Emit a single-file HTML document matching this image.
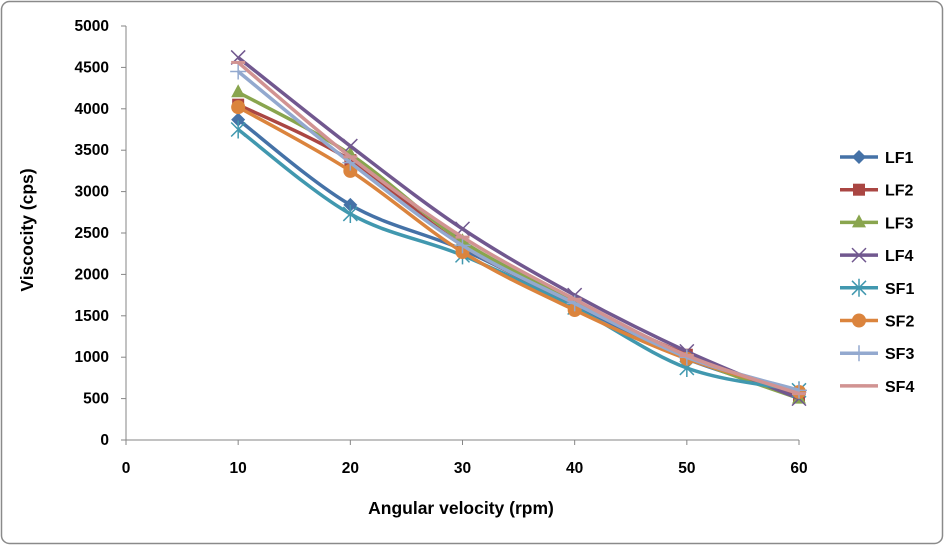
<!DOCTYPE html>
<html><head><meta charset="utf-8"><style>
body{margin:0;background:#fff;font-family:"Liberation Sans",sans-serif}
svg text{font-family:"Liberation Sans",sans-serif;font-weight:bold}
</style></head><body>
<svg id="c" width="945" height="546">
<rect x="1.5" y="1.5" width="941" height="542" rx="8" fill="#fff" stroke="#8a8a8a" stroke-width="1.5"/>
<g id="axes"></g><g id="series"></g><g id="legend"></g>
<text x="461" y="514" font-size="17.5" text-anchor="middle">Angular velocity (rpm)</text>
<text transform="translate(33,230) rotate(-90)" font-size="17.5" text-anchor="middle">Viscocity (cps)</text>
</svg>
<script>
const xCats=[10,20,30,40,50,60];
const xTicks=[0,10,20,30,40,50,60];
const yTicks=[0,500,1000,1500,2000,2500,3000,3500,4000,4500,5000];
const names=["LF1","LF2","LF3","LF4","SF1","SF2","SF3","SF4"];
const LF1=[3870,2840,2300,1630,980,550];
const LF2=[4050,3380,2350,1650,1030,530];
const LF3=[4200,3450,2400,1680,1000,500];
const LF4=[4620,3550,2550,1750,1070,500];
const SF1=[3750,2730,2230,1600,870,600];
const SF2=[4020,3250,2270,1570,980,580];
const SF3=[4450,3350,2350,1650,1000,600];
const SF4=[4560,3420,2450,1700,1020,560];
const seriesVals=[LF1,LF2,LF3,LF4,SF1,SF2,SF3,SF4];
const colors=["#4572A7","#AA4643","#89A54E","#71588F","#4198AF","#DB843D","#93A9CF","#D19392"];
const markers=["diamond","square","triangle","x","star","circle","plus","dash"];
const NS="http://www.w3.org/2000/svg";
const X=v=>126+v*(799-126)/60, Y=v=>440-v*(440-26)/5000;
function mk(t,a,p){const e=document.createElementNS(NS,t);for(const k in a)e.setAttribute(k,a[k]);p.appendChild(e);return e;}
const ax=document.getElementById('axes');
const yl=mk('line',{x1:126,y1:26,x2:126,y2:440,stroke:'#868686'},ax);


const xl=mk('line',{x1:126,y1:440,x2:799,y2:440,stroke:'#868686'},ax);


yTicks.forEach(v=>{mk('line',{x1:121,x2:126,y1:Y(v),y2:Y(v),stroke:'#868686'},ax);
 const t=mk('text',{x:109,y:Y(v)+5,'font-size':15.5,'text-anchor':'end'},ax);t.textContent=v;
 
 });
xTicks.forEach(v=>{mk('line',{x1:X(v),x2:X(v),y1:440,y2:445,stroke:'#868686'},ax);
 const t=mk('text',{x:X(v),y:473,'font-size':15.5,'text-anchor':'middle'},ax);t.textContent=v;
 
 });
function marker(type,x,y,c,g){
 if(type=='diamond')mk('path',{d:`M${x} ${y-7}L${x+7} ${y}L${x} ${y+7}L${x-7} ${y}Z`,fill:c},g);
 else if(type=='square')mk('rect',{x:x-6,y:y-6,width:12,height:12,fill:c},g);
 else if(type=='triangle')mk('path',{d:`M${x} ${y-8}L${x+7} ${y+5}L${x-7} ${y+5}Z`,fill:c},g);
 else if(type=='circle')mk('circle',{cx:x,cy:y,r:7,fill:c},g);
 else if(type=='x')mk('path',{d:`M${x-7} ${y-7}L${x+7} ${y+7}M${x-7} ${y+7}L${x+7} ${y-7}`,stroke:c,'stroke-width':1.5},g);
 else if(type=='star')mk('path',{d:`M${x-7} ${y-7}L${x+7} ${y+7}M${x-7} ${y+7}L${x+7} ${y-7}M${x} ${y-9}L${x} ${y+9}`,stroke:c,'stroke-width':1.5},g);
 else if(type=='plus')mk('path',{d:`M${x-8} ${y}L${x+8} ${y}M${x} ${y-8}L${x} ${y+8}`,stroke:c,'stroke-width':1.5},g);
 else mk('path',{d:`M${x-7} ${y}L${x+7} ${y}`,stroke:c,'stroke-width':3},g);
}
function smooth(p){let d=`M${p[0][0]} ${p[0][1]}`;for(let i=0;i<p.length-1;i++){const p0=p[i-1]||p[i],p1=p[i],p2=p[i+1],p3=p[i+2]||p2;
 d+=`C${p1[0]+(p2[0]-p0[0])/6} ${p1[1]+(p2[1]-p0[1])/6} ${p2[0]-(p3[0]-p1[0])/6} ${p2[1]-(p3[1]-p1[1])/6} ${p2[0]} ${p2[1]}`;}return d;}
const sg=document.getElementById('series'), lg=document.getElementById('legend');
seriesVals.forEach((vals,i)=>{
 const g=mk('g',{},sg);
 
 
 const pts=vals.map((v,j)=>[X(xCats[j]),Y(v)]);
 mk('path',{d:smooth(pts),fill:'none',stroke:colors[i],'stroke-width':3.5},g);
 pts.forEach(p=>marker(markers[i],p[0],p[1],colors[i],g));
 const ly=157+i*32.7;
 const le=mk('g',{},lg);
 
 
 mk('line',{x1:840,x2:878,y1:ly,y2:ly,stroke:colors[i],'stroke-width':3.5},le);
 marker(markers[i],859,ly,colors[i],le);
 const t=mk('text',{x:885,y:ly+6,'font-size':16},le);t.textContent=names[i];
});
</script>
</body></html>
